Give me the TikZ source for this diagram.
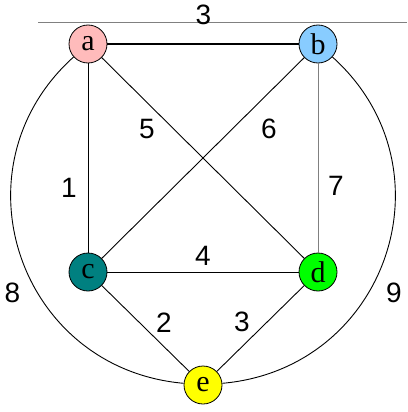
\documentclass[tikz,border=0pt]{standalone}
\usepackage{fontspec}
\setmainfont{Liberation Serif}
\newfontfamily\wtfont{Liberation Sans}
\usetikzlibrary{positioning}
\definecolor{apink}{RGB}{255,187,187}
\definecolor{bblue}{RGB}{136,204,255}
\definecolor{cteal}{RGB}{0,128,128}
\definecolor{dgreen}{RGB}{0,255,0}
\definecolor{eyellow}{RGB}{255,255,0}
\definecolor{lgray}{RGB}{128,128,128}

\begin{document}
\begin{tikzpicture}[x=1pt,y=1pt,
  vx/.style={circle,draw,line width=0.8pt,minimum size=38pt,inner sep=0pt,
    font=\fontsize{30}{30}\selectfont},
  wt/.style={inner sep=0pt,font=\wtfont\fontsize{28}{28}\selectfont},
  ed/.style={line width=0.9pt}]
\useasboundingbox (0,0) rectangle (407,-412);
% vertices
\node[vx,fill=apink] (a) at (88,-44) {a};
\node[vx,fill=bblue] (b) at (318,-44) {b};
\node[vx,fill=cteal] (c) at (88,-272) {c};
\node[vx,fill=dgreen] (d) at (318,-272) {d};
\node[vx,fill=eyellow] (e) at (203,-385) {e};
\coordinate (tl) at (38,-22);
\coordinate (tr) at (407,-22);
% edges
\draw[lgray,line width=0.9pt] (tl) -- (tr);
\draw[line width=1.6pt] (a) -- (b);
\draw[ed] (a) -- (c);
\draw[ed] (a) -- (d);
\draw[ed] (b) -- (c);
\draw[ed,lgray] (b) -- (d);
\draw[ed] (c) -- (d);
\draw[ed] (c) -- (e);
\draw[ed] (d) -- (e);
\draw[ed] (a) to[out=222,in=175,looseness=1.23] (e);
\draw[ed] (b) to[out=-42,in=5,looseness=1.23] (e);
% weights
\node[wt] (wab) at (203.5,-15) {3};
\node[wt] (wac) at (69,-188) {1};
\node[wt] (wad) at (147,-129) {5};
\node[wt] (wbc) at (269,-129) {6};
\node[wt] (wbd) at (336,-186) {7};
\node[wt] (wcd) at (203,-256) {4};
\node[wt] (wce) at (164,-323) {2};
\node[wt] (wde) at (242,-322) {3};
\node[wt] (wae) at (12.5,-293) {8};
\node[wt] (wbe) at (394,-293) {9};
\end{tikzpicture}
\end{document}
